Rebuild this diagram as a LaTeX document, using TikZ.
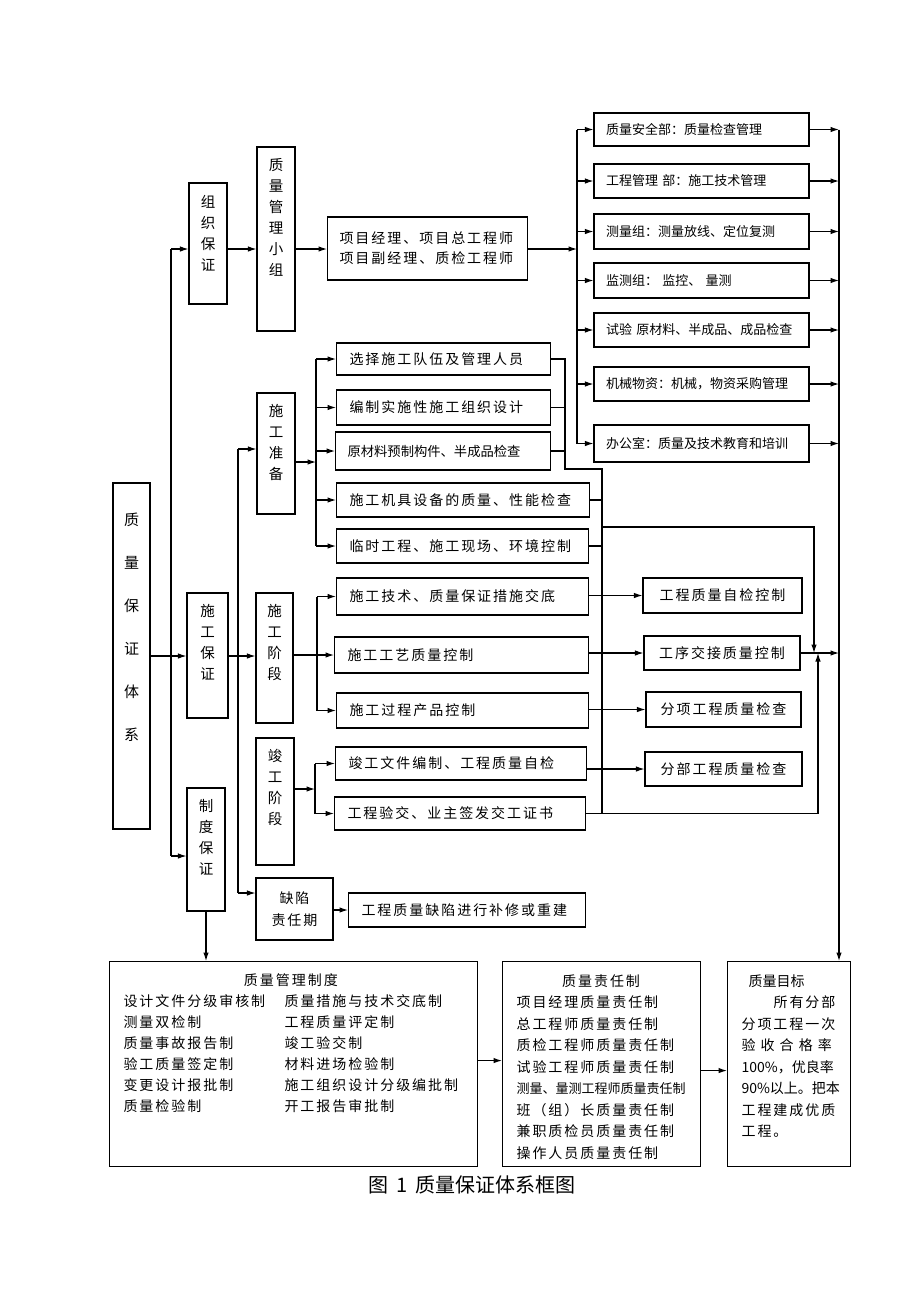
\documentclass[tikz,border=0pt]{standalone}
\usepackage{fontspec}
\setmainfont{Noto Sans CJK SC}
\newfontfamily\zhfont{Noto Sans CJK SC}
\newfontfamily\zhwide{Noto Sans CJK SC}[LetterSpace=14]
\usetikzlibrary{arrows.meta, positioning}
\tikzset{
  box/.style={draw, line width=1.1pt, inner sep=0pt},
  vbox/.style={box, align=center, font=\zhfont\fontsize{14.5}{21}\selectfont},
  dept/.style={box, minimum width=215, text width=191, align=left, font=\zhfont\fontsize{13}{15}\selectfont},
  task/.style={box, anchor=west, inner xsep=13pt, align=left, font=\zhwide\fontsize{14}{20}\selectfont},
  check/.style={box, align=center, font=\zhwide\fontsize{14}{20}\selectfont},
  panel/.style={box, anchor=north west, minimum height=205},
  listtxt/.style={anchor=north west, inner sep=0pt, font=\zhwide\fontsize{14}{21}\selectfont},
}

\begin{document}
\begin{tikzpicture}[x=1pt, y=-1pt, >={Latex[length=8.5pt,width=5.5pt]}, line width=1.1pt]
  \useasboundingbox (0,0) rectangle (920,1302);

  % left columns
  \node[vbox, minimum width=37, minimum height=346, font=\zhfont\fontsize{15}{43}\selectfont] (sys) at (131.5,656) {质\\量\\保\\证\\体\\系\\[16pt]~};
  \node[vbox, minimum width=38, minimum height=121] (zzbz) at (208,243.5) {组\\织\\保\\证\\~};
  \node[vbox, minimum width=41, minimum height=125] (sgbz) at (207.5,655.5) {施\\工\\保\\证\\[7pt]~};
  \node[vbox, minimum width=38, minimum height=123] (zdbz) at (206,849.5) {制\\度\\保\\证\\[4pt]~};
  \node[vbox, minimum width=38, minimum height=184] (zlxz) at (276,239) {质\\量\\管\\理\\小\\组\\[24pt]~};
  \node[vbox, minimum width=38, minimum height=121] (sgzb) at (276,453.5) {施\\工\\准\\备\\[3pt]~};
  \node[vbox, minimum width=37, minimum height=130] (sgjd) at (274.5,658) {施\\工\\阶\\段\\[11pt]~};
  \node[vbox, minimum width=38, minimum height=127] (jgjd) at (275,801.5) {竣\\工\\阶\\段\\[9pt]~};
  \node[vbox, minimum width=77, minimum height=62, font=\zhwide\fontsize{14}{22}\selectfont] (qxq) at (294.5,909) {缺陷\\责任期};

  \node[task, text width=176, inner xsep=12pt, minimum height=63] (xmjl) at (327,248.5) {项目经理、项目总工程师\\项目副经理、质检工程师};

  % departments
  \node[dept, minimum height=33] (aqb) at (701.5,129.5) {质量安全部：质量检查管理};
  \node[dept, minimum height=34] (glb) at (701.5,181) {工程管理 部：施工技术管理};
  \node[dept, minimum height=35] (clz) at (701.5,231.5) {测量组：测量放线、定位复测};
  \node[dept, minimum height=35] (jcz) at (701.5,280.5) {监测组： 监控、 量测};
  \node[dept, minimum height=34] (sy) at (701.5,330) {试验 原材料、半成品、成品检查};
  \node[dept, minimum height=34] (jxwz) at (701.5,384) {机械物资：机械，物资采购管理};
  \node[dept, minimum height=37] (bgs) at (701.5,443.5) {办公室：质量及技术教育和培训};

  % preparation
  \node[task, text width=188, minimum height=32] (zb1) at (336,359) {选择施工队伍及管理人员};
  \node[task, text width=188, minimum height=35] (zb2) at (336,407.5) {编制实施性施工组织设计};
  \node[task, text width=191, minimum height=38, inner xsep=12pt, font=\zhfont\fontsize{13.3}{20}\selectfont] (zb3) at (335,451) {原材料预制构件、半成品检查};
  \node[task, text width=227, minimum height=34] (zb4) at (336,500) {施工机具设备的质量、性能检查};
  \node[task, text width=226, minimum height=34] (zb5) at (336,546) {临时工程、施工现场、环境控制};

  % construction stage
  \node[task, text width=226, minimum height=37] (jd1) at (336,596.5) {施工技术、质量保证措施交底};
  \node[task, text width=228, minimum height=36] (jd2) at (334,655) {施工工艺质量控制};
  \node[task, text width=226, minimum height=35] (jd3) at (336,710.5) {施工过程产品控制};
  \node[task, text width=225, minimum height=33] (jg1) at (335,763.5) {竣工文件编制、工程质量自检};
  \node[task, text width=225, minimum height=33] (jg2) at (334,813.5) {工程验交、业主签发交工证书};
  \node[task, text width=211, minimum height=34] (qx1) at (348,910) {工程质量缺陷进行补修或重建};

  \node[check, minimum width=159, minimum height=35] (kz1) at (722.5,595.5) {工程质量自检控制};
  \node[check, minimum width=156, minimum height=34] (kz2) at (722,653) {工序交接质量控制};
  \node[check, minimum width=155, minimum height=35] (kz3) at (723.5,709.5) {分项工程质量检查};
  \node[check, minimum width=157, minimum height=34] (kz4) at (723.5,769) {分部工程质量检查};

  % bottom panels
  \node[panel, minimum width=368] (zdbox) at (109,961) {};
  \node[listtxt] (zdtxt) at (123,970.6) {\begin{tabular}{@{}p{161pt}@{}l@{}}
    \multicolumn{2}{c}{质量管理制度}\\
    设计文件分级审核制 & 质量措施与技术交底制\\
    测量双检制 & 工程质量评定制\\
    质量事故报告制 & 竣工验交制\\
    验工质量签定制 & 材料进场检验制\\
    变更设计报批制 & 施工组织设计分级编批制\\
    质量检验制 & 开工报告审批制
  \end{tabular}};
  \node[panel, minimum width=198] (zrbox) at (502,961) {};
  \node[listtxt, font=\zhwide\fontsize{14}{21.5}\selectfont] (zrtxt) at (516,970.6) {\begin{tabular}{@{}l@{}}
    \multicolumn{1}{@{}c@{}}{质量责任制}\\
    项目经理质量责任制\\
    总工程师质量责任制\\
    质检工程师质量责任制\\
    试验工程师质量责任制\\
    {\zhfont\fontsize{13}{21.5}\selectfont 测量、量测工程师质量责任制}\\
    班（组）长质量责任制\\
    兼职质检员质量责任制\\
    操作人员质量责任制
  \end{tabular}};
  \node[panel, minimum width=123] (mbbox) at (727,961) {};
  \node[listtxt, font=\zhwide\fontsize{14}{21.5}\selectfont] (mbtxt) at (741,970.6) {\begin{tabular}{@{}l@{}}
    \hspace*{7pt}{\zhfont 质量目标}\\
    \hspace*{32pt}所有分部\\
    分项工程一次\\
    验 收 合 格 率\\
    {\zhfont 100\%，优良率}\\
    {\zhfont 90\%以上。把本}\\
    工程建成优质\\
    工程。
  \end{tabular}};

  \node[font=\zhfont\fontsize{20}{24}\selectfont] (cap) at (472,1185) {图\hspace{8pt}1\hspace{8pt}质量保证体系框图};

  % main bus
  \coordinate (m0) at (171,249);
  \coordinate (m1) at (171,856);
  \draw (m0) -- (m1);
  \draw[->] (m0) -- (m0 -| zzbz.west);
  \draw[->] (sys.east) -- (sys.east -| sgbz.west);
  \draw[->] (m1) -- (m1 -| zdbz.west);
  \draw[->] (m0 -| zzbz.east) -- (m0 -| zlxz.west);
  \draw[->] (m0 -| zlxz.east) -- (m0 -| xmjl.west);

  % departments
  \coordinate (tb) at (577,249);
  \draw[->] (tb -| xmjl.east) -- (tb);
  \draw (tb |- aqb.west) -- (tb |- bgs.west);
  \foreach \nd in {aqb,glb,clz,jcz,sy,jxwz,bgs}
    \draw[->] (tb |- \nd.west) -- (\nd.west);
  \coordinate (rb) at (839,129.5);
  \draw[->] (rb) -- (rb |- mbbox.north);
  \foreach \nd in {aqb,glb,clz,jcz,sy,jxwz,bgs}
    \draw[->] (\nd.east) -- (\nd.east -| rb);

  % construction bus
  \coordinate (s0) at (238,449);
  \coordinate (s1) at (238,893);
  \draw (s0) -- (s1);
  \draw[->] (s0) -- (s0 -| sgzb.west);
  \draw[->] (sys.east -| sgbz.east) -- (sys.east -| sgjd.west);
  \draw[->] (s1) -- (s1 -| qxq.west);

  % preparation
  \coordinate (pb) at (316,462);
  \draw[->] (pb -| sgzb.east) -- (pb);
  \draw (pb |- zb1.west) -- (pb |- zb5.west);
  \foreach \nd in {zb1,zb2,zb3,zb4,zb5}
    \draw[->] (pb |- \nd.west) -- (\nd.west);
  \coordinate (c1) at (565,469);
  \coordinate (c2) at (602,469);
  \coordinate (c3) at (602,527);
  \coordinate (c4) at (814,527);
  \coordinate (c5) at (818,810);
  \draw (zb1.east) -- (zb1.east -| c1) -- (c1) -- (c2) -- (c2 |- jg2.east);
  \draw (zb2.east) -- (zb2.east -| c1);
  \draw (zb3.east) -- (zb3.east -| c1);
  \draw (zb4.east) -- (zb4.east -| c2);
  \draw (zb5.east) -- (zb5.east -| c2);
  \draw[->] (c3) -- (c4) -- (c4 |- kz2.east);
  \draw[->] (jg2.east) -- (jg2.east -| c5) -- (c5 |- kz2.east);
  \draw[->] (kz2.east) -- (kz2.east -| rb);

  % construction stage
  \coordinate (sb) at (317,655);
  \draw[->] (sgjd.east |- jd2.west) -- (jd2.west);
  \draw (sb |- jd1.west) -- (sb |- jd3.west);
  \draw[->] (sb |- jd1.west) -- (jd1.west);
  \draw[->] (sb |- jd3.west) -- (jd3.west);
  \coordinate (cb) at (315,789);
  \draw[->] (jgjd.east |- cb) -- (cb);
  \draw (cb |- jg1.west) -- (cb |- jg2.west);
  \draw[->] (cb |- jg1.west) -- (jg1.west);
  \draw[->] (cb |- jg2.west) -- (jg2.west);
  \draw[->] (kz1.west -| jd1.east) -- (kz1.west);
  \draw[->] (kz2.west -| jd2.east) -- (kz2.west);
  \draw[->] (kz3.west -| jd3.east) -- (kz3.west);
  \draw[->] (kz4.west -| jg1.east) -- (kz4.west);
  \draw[->] (qx1.west -| qxq.east) -- (qx1.west);

  % systems
  \coordinate (a1) at ([yshift=3.5pt]zdbox.east);
  \coordinate (a2) at ([yshift=-6.5pt]zrbox.east);
  \draw[->] (zdbz.south) -- (zdbz.south |- zdbox.north);
  \draw[->] (a1) -- (a1 -| zrbox.west);
  \draw[->] (a2) -- (a2 -| mbbox.west);
\end{tikzpicture}
\end{document}
